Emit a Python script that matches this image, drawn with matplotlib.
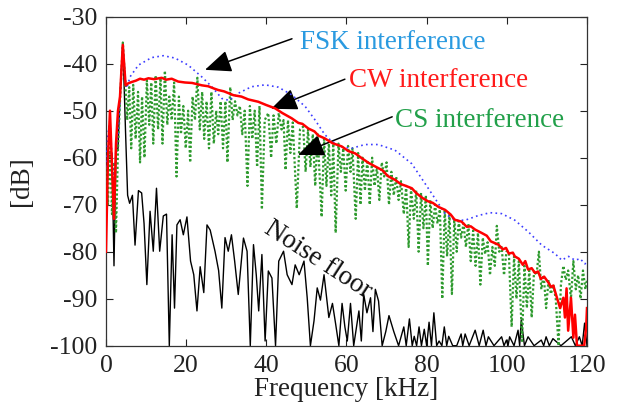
import matplotlib
matplotlib.use("Agg")
import matplotlib.pyplot as plt

plt.rcParams['font.family'] = ['Liberation Serif', 'DejaVu Serif']
plt.rcParams['axes.unicode_minus'] = False

# ---------------- data ----------------
x_ticks = [0, 20, 40, 60, 80, 100, 120]
y_ticks = [-30, -40, -50, -60, -70, -80, -90, -100]

noise_f = [0, 0.5, 1, 1.5, 2, 2.5, 3, 3.5, 4.2, 4.9, 5.4, 5.9, 6.6, 7.25, 8.1, 8.9, 9.5, 10.2,
           11.0, 11.8, 12.6, 13.4, 14.3, 15.1, 15.8, 16.5, 17.1, 17.7, 18.5, 19.3, 20.2, 21.1,
           21.9, 22.7, 23.5, 24.4, 25.2, 26.0, 27.2, 28.1, 28.9, 29.7, 30.5, 31.3, 32.1, 33.0,
           34.3, 35.2, 36.0, 36.8, 37.5, 38.1, 38.9, 39.7, 40.5, 41.4, 42.3, 43.1, 44.3, 45.2,
           46.4, 47.2, 48.2, 49.4, 50.2, 51.0, 51.9, 52.7, 53.5, 54.4, 55.6, 56.5, 57.3, 58.1,
           58.9, 59.6, 60.2, 61.0, 61.8, 63.1, 63.7, 64.3, 65.1, 66.0, 66.6, 67.2, 68.0, 68.9,
           69.8, 70.6, 71.8, 73.0, 74.3, 74.9, 75.7, 76.4, 76.9, 77.5, 78.1, 78.7, 79.4, 80.0,
           80.6, 81.2, 81.8, 82.5, 83.1, 83.8, 84.4, 85.0, 85.5, 86.5, 87.5, 88.6, 89.0, 89.6,
           90.6, 92.1, 93.1, 94.1, 94.8, 95.4, 96.8, 98.7, 99.3, 99.9, 100.3, 100.7, 101.8,
           102.8, 103.2, 103.6, 104.4, 105.3, 106.8, 108.6, 109.2, 109.8, 110.6, 111.5, 113.5,
           116.1, 117.1, 118.1, 118.8, 119.4, 120]
noise_v = [-62, -59, -60, -59, -83, -59, -58, -47, -35.5, -55, -68, -69.7, -68, -78.6, -67, -67.5,
           -74, -87, -71.4, -79.9, -66.5, -79.9, -72.4, -72, -100, -76.4, -92, -74.3, -73.2, -76.4,
           -72.6, -82, -84.9, -92.6, -83.2, -88.7, -74.3, -75.4, -79.9, -84, -92, -77, -79.9, -76.4,
           -82, -89.1, -77.1, -79.9, -100, -78.5, -85, -92.6, -80.6, -99, -84.1, -85.6, -100, -82,
           -79.9, -84.9, -87, -82.8, -84.9, -82, -89.8, -100, -94.7, -87.7, -90.3, -84.9, -94, -91,
           -95.4, -100, -91, -96, -99, -91, -100, -92.6, -99, -89.1, -93, -89.8, -97, -88, -90.5,
           -100, -97, -93.6, -97, -100, -96, -100, -94.3, -100, -98, -100, -96, -100, -96.5, -100,
           -95, -100, -93, -100, -99, -100, -96, -100, -98, -100, -100, -97.5, -100, -97.5, -100,
           -96.7, -100, -96.7, -100, -98.1, -100, -98.1, -100, -98.8, -100, -98.1, -100, -96.7,
           -100, -94.5, -100, -98.1, -100, -98.8, -100, -98.1, -100, -98.5, -100, -98.1, -100,
           -98.1, -100, -95.2, -100]

cw_f = [0, 0.5, 1, 1.5, 2, 2.5, 3, 3.5, 4.2, 4.9, 5.5, 6.4, 7.5, 8.5, 9.5, 10.6, 12, 13.9, 15,
        16.4, 18, 19.7, 21.5, 23.9, 25.5, 27, 28, 29.5, 31.8, 33.8, 35.5, 37, 38, 40, 42.2, 44,
        46.3, 48, 49, 50.5, 52, 53, 54.6, 56.5, 58.8, 60.5, 62.2, 63.8, 65.5, 67.9, 69, 70.3,
        72.1, 73.5, 74.5, 76.3, 77.5, 79, 80.4, 81.5, 83, 84.6, 86, 87, 88.7, 90, 91, 92.1, 93.7,
        95, 96, 97.9, 99, 99.8, 100.5, 101.5, 102, 103, 104, 104.6, 105.3, 106.2, 107, 107.8,
        108.5, 109.3, 110.4, 111, 111.6, 112.5, 113.3, 114.1, 114.5, 114.9, 115.3, 116, 116.6,
        117, 117.5, 118.7, 119.3, 119.8, 120]
cw_v = [-80, -60, -50, -62, -73, -57, -50, -47, -36, -44.6, -44.2, -43.9, -43.6, -43.2, -43.4,
        -43.1, -43.3, -43.0, -43.4, -43.2, -43.8, -44.0, -44.1, -44.6, -44.8, -45.3, -45.6, -45.9,
        -46.7, -47.0, -47.6, -47.9, -48.1, -48.8, -49.5, -50.5, -51.6, -52.6, -52.8, -53.8, -54.4,
        -55.3, -55.9, -56.9, -57.6, -58.6, -59.1, -60.1, -61.1, -62.2, -62.7, -63.9, -64.7, -65.6,
        -65.9, -66.5, -67.6, -68.6, -69.3, -69.6, -70.5, -71.1, -72.1, -73.2, -73.6, -74.7, -74.6,
        -75.3, -76.0, -76.6, -77.8, -78.5, -79.5, -79.2, -80.4, -80.2, -81.0, -81.5, -82.8, -82.0,
        -83.8, -83.5, -84.5, -84.2, -85.8, -85.3, -86.6, -87.5, -87.2, -89.8, -92.0, -89.8, -94.0,
        -87.8, -96.8, -89.8, -98.3, -93.4, -100, -100, -100, -96, -92]

fsk_f = [0, 0.5, 1, 1.5, 2, 2.5, 3, 3.5, 4.2, 4.9, 5.2, 6, 8.1, 11.4, 14.3, 17.2, 20.5, 23.9, 26.4,
         28.9, 30.7, 33, 36.3, 39.7, 43, 46.3, 49.7, 52.1, 54.6, 56.3, 58.8, 61.3, 64.6, 67.9,
         72.1, 76.3, 79.6, 82.1, 84.6, 87.1, 89.6, 92.9, 95.8, 98.7, 102, 105.4, 108.7, 112,
         113.7, 115.4, 117, 118.3, 119.5, 120]
fsk_v = [-62, -55, -52, -60, -66, -58, -55, -48, -36, -44, -45.2, -42.8, -40.3, -38.7, -38.3,
         -38.8, -40.3, -42.8, -44.9, -47.4, -47.8, -46.3, -44.9, -44.5, -45, -46.6, -49.1, -51.9,
         -55.1, -56.5, -57.7, -58, -57.2, -57.2, -58.4, -61.3, -65.5, -68.7, -71.9, -73.3, -73.3,
         -72.3, -71.7, -71.9, -73.3, -75.8, -78.6, -80.4, -81.8, -81, -81.8, -81.5, -82.6, -82]

cs_f = [0, 0.5, 1, 1.5, 2, 2.5, 3, 3.5, 4.2, 4.8, 5.3, 5.8, 6.3, 6.8, 7.4, 8.0, 8.5, 9.0, 9.6,
        10.2, 10.8, 11.3, 11.8, 12.4, 13.0, 13.6, 14.1, 14.7, 15.3, 15.8, 16.4, 17.0, 17.6, 18.2,
        18.7, 19.3, 19.9, 20.5, 21.0, 21.6, 22.2, 22.8, 23.4, 24.0, 24.5, 25.1, 25.7, 26.3, 26.9,
        27.5, 28.0, 28.6, 29.2, 29.8, 30.3, 31.0, 31.6, 32.2, 32.8, 33.4, 34.0, 34.6, 35.3, 35.9,
        36.5, 37.1, 37.7, 38.3, 38.9, 39.6, 40.5, 41.2, 41.8, 42.5, 43.1, 43.8, 44.3, 44.8, 45.4,
        46.0, 46.6, 47.6, 48.4, 49.2, 49.8, 50.4, 51.0, 51.6, 52.2, 52.8, 53.8, 54.4, 55.0, 55.6,
        56.2, 56.7, 57.3, 58.0, 58.6, 59.2, 59.8, 60.4, 61.0, 61.5, 62.3, 62.9, 63.5, 64.0, 64.6,
        65.2, 65.8, 66.4, 67.0, 67.6, 68.2, 68.8, 69.4, 70.0, 70.6, 71.2, 71.8, 72.4, 73.0, 73.6,
        74.3, 74.9, 75.5, 76.1, 76.8, 77.4, 78.0, 78.6, 79.2, 79.8, 80.3, 80.9, 81.5, 82.1, 82.7,
        83.3, 83.9, 84.5, 85.1, 85.7, 86.3, 86.9, 87.5, 88.0, 88.6, 89.2, 89.8, 90.4, 91.0, 91.6,
        92.2, 92.8, 93.4, 94.0, 94.6, 95.2, 95.8, 96.4, 97.0, 97.5, 98.1, 98.7, 99.3, 99.9, 100.5,
        101.2, 101.8, 102.4, 103.0, 103.8, 104.4, 105.0, 105.6, 106.2, 106.8, 107.4, 108.0, 108.6,
        109.2, 109.8, 110.4, 111.0, 111.6, 112.2, 112.9, 113.5, 114.1, 114.7, 115.3, 116.0, 116.6,
        117.2, 117.8, 118.4, 119.0, 119.6, 120]
cs_v = [-62, -70, -57, -72, -61, -76, -58, -48, -35.5, -44, -52, -45, -58, -44.5, -56, -46, -61,
        -47, -60, -43.5, -53, -44, -57, -42.5, -54, -43, -57, -41.5, -53, -47, -52, -44, -64, -47,
        -55, -49, -58, -50, -61, -47, -52, -43, -54, -46, -56, -48, -58, -46, -57, -50, -55, -48,
        -58, -48, -61, -45, -52, -48, -51, -49, -55, -50, -66, -49, -56, -50, -62, -49, -71, -52,
        -50.5, -60, -51, -57, -50.5, -54, -52, -62.6, -52, -59, -52.5, -70.8, -54, -53.4, -63, -54,
        -62, -55, -66, -55, -72.6, -56, -66, -57, -68, -57, -76, -57, -63, -58, -67, -57.5, -63,
        -58, -73, -59, -70, -60, -67, -60.5, -70, -60, -66, -62, -69, -61, -64, -61, -70, -63, -68,
        -64, -69, -65, -72, -66, -79, -66.5, -73, -67, -80, -67.5, -75, -68, -83, -69, -75, -70,
        -74, -71, -90, -71, -81, -72, -89, -73, -80, -73.5, -77, -74, -79, -74, -82, -75.5, -83,
        -76, -87, -77, -80.5, -78, -85, -79, -83, -74.5, -80, -79, -85, -80, -80, -96, -81, -90,
        -82, -99, -83, -92, -84, -94, -84, -85, -80, -88, -85, -92, -86, -89, -87, -90, -100, -87,
        -83, -86, -84, -90, -82, -88, -85, -90, -84, -88, -86]

# ---------------- figure ----------------
fig = plt.figure(figsize=(6.19, 4.07), dpi=100)
ax = fig.add_axes([0.1712, 0.1506, 0.7771, 0.8084])

ax.plot(noise_f, noise_v, color='black', lw=1.0, zorder=2)
ax.plot(cs_f, cs_v, color='#2e9a2e', lw=1.6, linestyle=(0, (1.0, 1.0)), zorder=3)
ax.plot(fsk_f, fsk_v, color='#3c3cff', lw=1.2, linestyle=(0, (1.0, 2.0)), zorder=4)
ax.plot(cw_f, cw_v, color='#ff0000', lw=1.8, zorder=5)

ax.set_xlim(0, 120)
ax.set_ylim(-100, -30)
ax.set_xticks(x_ticks)
ax.set_yticks(y_ticks)
ax.tick_params(direction='in', length=5, width=0.8, labelsize=18.5, top=True, right=True,
               colors='#222222', labelcolor='#222222')
ax.tick_params(axis='y', pad=6)
ax.tick_params(axis='x', pad=7)
for s in ax.spines.values():
    s.set_linewidth(0.9)
    s.set_color('#333333')

ax.set_xlabel('Frequency [kHz]', fontsize=19.5, color='#222222')
ax.set_ylabel('[dB]', fontsize=19.5, color='#222222')
ax.xaxis.set_label_coords(0.5, -0.095)
ax.yaxis.set_label_coords(-0.15, 0.5)

arrow = dict(arrowstyle='-|>,head_length=0.9,head_width=0.38', color='black', lw=1.1,
             shrinkA=0, shrinkB=0, mutation_scale=18)
ax.annotate('', xy=(24.7, -41.3), xytext=(46.4, -34.7), arrowprops=arrow)
ax.annotate('', xy=(41.2, -49.6), xytext=(59.6, -43.3), arrowprops=arrow)
ax.annotate('', xy=(47.9, -59.4), xytext=(71.4, -51.3), arrowprops=arrow)

ax.text(48.4, -36.9, 'FSK interference', color='#2a9ae0', fontsize=19.5, va='baseline', ha='left')
ax.text(60.6, -45.0, 'CW interference', color='#ff1a1a', fontsize=19.5, va='baseline', ha='left')
ax.text(72.1, -53.4, 'CS interference', color='#22a04a', fontsize=19.5, va='baseline', ha='left')
ax.text(52.9, -81.8, 'Noise floor', color='#111111', fontsize=19.5, rotation=-33,
        ha='center', va='center', rotation_mode='anchor')

fig.savefig('out.png', dpi=100)
